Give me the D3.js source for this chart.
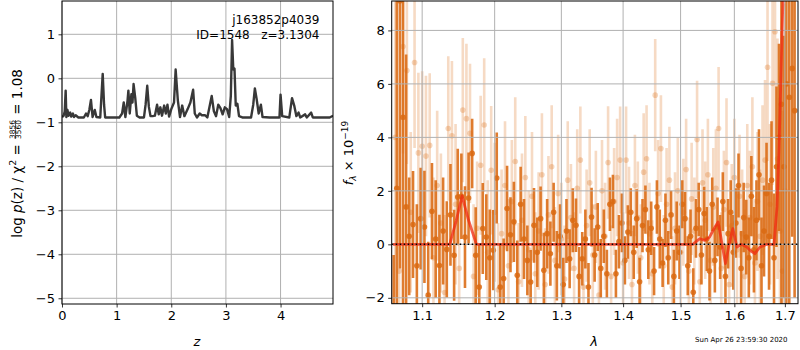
<!DOCTYPE html>
<html><head><meta charset="utf-8">
<script src="https://cdn.jsdelivr.net/npm/d3@7"></script>
<style>body{margin:0;background:#fff} text{font-family:"DejaVu Sans",sans-serif}</style>
</head><body><svg id="c" width="800" height="350" xmlns="http://www.w3.org/2000/svg"></svg>
<script>
// ---------------- data ----------------
const pzZ = [0.00,0.03,0.05,0.067,0.08,0.10,0.12,0.15,0.17,0.20,0.22,0.25,0.30,0.40,0.44,0.47,0.50,0.53,0.56,0.60,0.63,0.70,0.745,0.77,0.79,0.85,1.05,1.10,1.13,1.16,1.20,1.215,1.24,1.27,1.29,1.31,1.34,1.37,1.42,1.50,1.53,1.56,1.59,1.62,1.66,1.70,1.74,1.77,1.80,1.83,1.87,1.90,1.93,1.96,2.00,2.05,2.08,2.12,2.16,2.20,2.24,2.30,2.35,2.40,2.43,2.47,2.52,2.56,2.62,2.66,2.74,2.78,2.82,2.86,2.90,2.94,2.98,3.02,3.06,3.09,3.113,3.135,3.157,3.18,3.21,3.24,3.30,3.46,3.50,3.53,3.56,3.60,3.64,3.67,3.80,3.98,4.00,4.03,4.16,4.21,4.25,4.29,4.33,4.36,4.45,4.48,4.56,4.59,4.90,4.96];
const pzLogp = [-0.88,-0.85,-0.75,-0.28,-0.88,-0.72,-0.85,-0.78,-0.87,-0.80,-0.88,-0.84,-0.89,-0.89,-0.80,-0.86,-0.72,-0.49,-0.88,-0.72,-0.88,-0.89,0.10,-0.60,-0.89,-0.89,-0.89,-0.80,-0.55,-0.88,-0.50,-0.28,-0.80,-0.36,-0.55,-0.13,-0.44,-0.85,-0.89,-0.89,-0.60,-0.17,-0.65,-0.86,-0.86,-0.85,-0.60,-0.82,-0.66,-0.85,-0.62,-0.80,-0.60,-0.87,-0.70,-0.55,0.20,-0.50,-0.88,-0.62,-0.86,-0.70,-0.55,-0.26,-0.80,-0.89,-0.80,-0.84,-0.84,-0.89,-0.40,-0.75,-0.86,-0.60,-0.68,-0.82,-0.66,-0.70,-0.88,-0.40,0.87,0.20,0.22,-0.62,-0.58,-0.86,-0.89,-0.89,-0.60,-0.23,-0.45,-0.80,-0.60,-0.88,-0.89,-0.89,-0.37,-0.86,-0.89,-0.45,-0.62,-0.86,-0.78,-0.89,-0.82,-0.89,-0.78,-0.89,-0.89,-0.85];

const darkWave = [1.063,1.067,1.071,1.075,1.079,
1.083,1.088,1.093,1.098,1.103,1.108,1.113,1.118,1.123,1.128,
1.133,1.138,1.143,1.148,1.153,1.158,1.163,1.168,1.173,1.178,
1.183,1.188,1.193,1.198,1.203,1.208,1.213,1.218,1.223,1.228,
1.233,1.238,1.243,1.248,1.253,1.258,1.263,1.268,1.273,1.278,
1.283,1.288,1.293,1.298,1.303,1.308,1.313,1.318,1.323,1.328,
1.333,1.338,1.343,1.348,1.353,1.358,1.363,1.368,1.373,1.378,
1.383,1.388,1.393,1.398,1.403,1.408,1.413,1.418,1.423,1.428,
1.433,1.438,1.443,1.448,1.453,1.458,1.463,1.468,1.473,1.478,
1.483,1.488,1.493,1.498,1.503,1.508,1.513,1.518,1.523,1.528,
1.533,1.538,1.543,1.548,1.553,1.558,1.563,1.568,1.573,1.578,
1.583,1.588,1.593,1.598,1.603,1.608,1.613,1.618,1.623,1.628,
1.633,1.638,1.643,1.648,1.653,1.658,1.663,1.668,1.673,1.678,
1.683,1.688,1.693,1.698,1.703,1.709,1.715,1.720];
const darkFlux = [-3.0,2.1,9.1,4.75,1.4,
0.3,0.74,-0.8,0.96,0.65,-1.9,1.24,0.2,-0.79,0.5,
-0.19,1.1,-0.41,1.77,1.8,0.27,1.73,3.4,-0.41,-1.6,
0.59,0.27,-0.5,-0.22,2.48,-1.6,-1.28,1.34,0.36,0.84,
-1.16,1.5,0.2,-0.6,-1.41,0.71,-0.3,0.96,-0.97,0.4,
-0.35,1.2,-0.8,0.3,-1.5,0.5,-0.54,0.9,0.71,-1.2,
-0.54,0.2,-1.6,1.02,-0.4,0.65,-0.9,0.3,-1.1,1.5,
1.6,-1.1,0.1,0.8,-0.6,0.46,1.2,-0.3,0.96,-1.4,
0.7,1.3,-0.2,0.6,-1.0,1.4,0.2,-0.7,0.9,-0.5,
1.1,-1.2,0.5,-0.3,1.5,0.96,-0.8,0.3,-1.79,0.6,
1.3,-0.4,1.15,0.2,-1.0,1.5,-0.6,0.65,-0.1,1.6,
-1.2,0.4,1.2,-0.3,0.8,2.2,-0.9,1.0,0.27,-0.5,
1.8,-0.2,0.9,2.6,-0.8,0.5,1.9,0.3,2.4,-0.5,
2.9,4.0,5.24,2.9,6.0,5.5,6.58,5.0];
const darkErr = [2.6,9.0,10.0,8.0,5.7,
2.2,2.0,2.3,1.9,2.1,2.0,1.8,2.2,1.9,2.0,
1.8,1.9,1.7,1.8,1.6,1.9,1.7,1.3,1.8,1.6,
1.7,1.6,1.8,1.5,1.7,1.6,1.5,1.6,1.4,1.5,
1.3,1.4,1.5,1.3,1.2,1.4,1.3,1.2,1.4,1.3,
1.2,1.1,1.3,1.2,1.0,1.2,1.1,1.2,1.0,1.1,
1.0,1.1,0.9,1.1,1.0,0.9,1.1,1.0,0.9,1.0,
1.0,0.9,1.0,1.1,0.9,1.0,0.9,1.0,1.1,0.9,
1.0,0.9,1.1,1.0,0.9,1.0,1.1,0.9,1.0,1.0,
0.9,1.0,1.1,1.0,0.9,1.0,1.1,1.0,0.9,1.1,
1.0,1.1,1.0,1.2,1.1,1.0,1.2,1.1,1.2,1.1,
1.2,1.3,1.2,1.4,1.3,1.2,1.4,1.3,1.4,1.5,
1.5,1.6,1.5,1.7,1.8,1.7,1.9,2.0,2.2,2.4,
3.0,3.5,9.0,4.9,9.0,8.0,6.3,7.0];

const lightWave = [1.065,1.070,1.075,1.080,1.085,1.090,1.095,1.100,1.105,1.110,
1.115,1.120,1.125,1.130,1.135,1.140,1.145,1.150,1.155,1.160,
1.165,1.170,1.175,1.180,1.185,1.190,1.195,1.200,1.205,1.210,
1.215,1.220,1.225,1.230,1.235,1.240,1.245,1.250,1.255,1.260,
1.265,1.270,1.275,1.280,1.285,1.290,1.295,1.300,1.305,1.310,
1.315,1.320,1.325,1.330,1.335,1.340,1.345,1.350,1.355,1.360,
1.365,1.370,1.375,1.380,1.385,1.390,1.395,1.400,1.405,1.410,
1.415,1.420,1.425,1.430,1.435,1.440,1.445,1.450,1.455,1.460,
1.465,1.470,1.475,1.480,1.485,1.490,1.495,1.500,1.505,1.510,
1.515,1.520,1.525,1.530,1.535,1.540,1.545,1.550,1.555,1.560,
1.565,1.570,1.575,1.580,1.585,1.590,1.595,1.600,1.605,1.610,
1.615,1.620,1.625,1.630,1.635,1.640,1.645,1.650,1.655,1.660,
1.665,1.670,1.675,1.680,1.685,1.690,1.695,1.700];
const lightFlux = [4.0,-1.0,7.4,6.5,1.2,6.8,3.42,3.67,3.3,3.7,
-0.5,2.2,0.8,-1.8,4.33,4.06,1.5,-0.9,5.02,4.7,
4.15,-1.2,0.6,2.96,4.46,-0.3,2.77,1.2,-1.7,0.4,
2.2,-0.8,1.6,3.1,-1.4,0.9,2.5,-0.2,1.8,-1.1,
0.5,2.6,-1.5,1.1,2.9,-0.6,1.9,0.2,-1.3,2.4,
1.0,-0.9,2.1,3.15,-1.6,0.7,2.3,-0.4,1.4,-1.9,
2.0,0.3,3.06,-1.2,1.6,2.5,3.15,-0.7,3.15,0.8,
-1.5,2.2,1.0,-0.5,2.7,3.2,0.4,-1.1,5.58,1.9,
3.58,-0.8,1.5,2.4,-1.6,0.6,2.0,-0.3,1.2,2.8,
-1.0,1.7,0.5,3.92,-1.4,2.3,0.9,2.6,-0.6,1.4,
2.1,4.33,-0.9,1.3,3.06,-1.5,0.7,2.5,-0.2,1.8,
0.4,-1.2,2.2,1.0,2.9,-0.7,1.6,0.3,2.4,3.15,
6.62,1.5,6.02,7.95,3.2,0.5,-1.0,2.0];
const lightErr = [6.0,5.0,4.0,3.5,3.0,3.2,3.0,2.8,3.0,2.7,
3.0,2.8,2.6,2.9,2.7,2.8,3.0,2.6,2.7,2.8,
2.6,2.7,2.5,2.6,2.5,2.7,2.4,2.6,2.5,2.4,
2.4,2.5,2.3,2.4,2.2,2.5,2.3,2.2,2.4,2.3,
2.2,2.3,2.1,2.2,2.3,2.0,2.2,2.1,2.0,2.2,
2.0,2.1,2.2,2.0,1.9,2.1,2.0,1.9,2.1,2.0,
1.9,2.0,2.1,1.9,2.0,2.2,2.0,1.9,2.0,2.1,
2.0,1.9,2.1,2.0,2.2,2.0,1.9,2.0,2.1,2.0,
2.0,1.9,2.1,2.0,1.9,2.1,2.0,2.2,2.0,1.9,
2.0,2.1,2.0,2.2,2.1,2.0,2.2,2.1,2.0,2.2,
2.2,2.3,2.1,2.2,2.4,2.2,2.3,2.2,2.4,2.3,
2.4,2.5,2.3,2.5,2.6,2.4,2.6,2.5,2.8,3.0,
3.5,3.0,3.8,4.0,4.5,5.0,6.0,7.0];

const modelWave = [1.062,1.137,1.146,1.154,1.163,1.174,1.522,1.535,1.544,1.553,1.562,1.569,1.574,1.583,1.590,1.597,1.605,1.613,1.624,1.632,1.640,1.650,1.663,1.678,1.684,1.688,1.693,1.698,1.702];
const modelFlux = [0,0,0.9,1.81,0.9,0,0,0.21,0.15,0.27,0.6,0.84,0.3,-0.72,0.0,0.59,-0.1,0.0,-0.1,-0.25,-0.35,-0.1,0.0,0.0,1.4,3.5,7.0,10.5,12.0];

const zTicks = [0,1,2,3,4];
const logpTicks = [-5,-4,-3,-2,-1,0,1];
const lamTicks = [1.1,1.2,1.3,1.4,1.5,1.6,1.7];
const fluxTicks = [-2,0,2,4,6,8];

// ---------------- drawing ----------------
const svg = d3.select("#c");
const ORANGE = "#db6a12";
const GRID = "#b0b0b0";

const L = {x0:62, x1:333, y0:1, y1:304};
const R = {x0:391.7, x1:798, y0:1, y1:303.7};

const xL = d3.scaleLinear().domain([0,4.96]).range([L.x0,L.x1]);
const yL = d3.scaleLinear().domain([-5.13,1.757]).range([L.y1,L.y0]);
const xR = d3.scaleLog().domain([1.0605,1.727]).range([R.x0,R.x1]);
const yR = d3.scaleLinear().domain([-2.22,9.1]).range([R.y1,R.y0]);

const defs = svg.append("defs");
defs.append("clipPath").attr("id","clipL").append("rect")
  .attr("x",L.x0).attr("y",L.y0).attr("width",L.x1-L.x0).attr("height",L.y1-L.y0);
defs.append("clipPath").attr("id","clipR").append("rect")
  .attr("x",R.x0).attr("y",R.y0).attr("width",R.x1-R.x0).attr("height",R.y1-R.y0);

function grid(g, P, xs, ys, xt, yt){
  g.selectAll(null).data(xt).enter().append("line")
    .attr("x1",d=>xs(d)).attr("x2",d=>xs(d)).attr("y1",P.y0).attr("y2",P.y1)
    .attr("stroke",GRID).attr("stroke-width",1);
  g.selectAll(null).data(yt).enter().append("line")
    .attr("y1",d=>ys(d)).attr("y2",d=>ys(d)).attr("x1",P.x0).attr("x2",P.x1)
    .attr("stroke",GRID).attr("stroke-width",1);
}
function axes(P, xs, ys, xt, yt, xfmt, yfmt){
  const gx = svg.append("g").attr("transform",`translate(0,${P.y1})`)
    .call(d3.axisBottom(xs).tickValues(xt).tickFormat(xfmt).tickSize(3.5).tickPadding(3.5));
  const gy = svg.append("g").attr("transform",`translate(${P.x0},0)`)
    .call(d3.axisLeft(ys).tickValues(yt).tickFormat(yfmt).tickSize(3.5).tickPadding(3.5));
  [gx,gy].forEach(g=>{
    g.select(".domain").remove();
    g.selectAll("text").attr("font-size",13).attr("font-family","DejaVu Sans").attr("fill","#000");
    g.selectAll("line").attr("stroke","#000").attr("stroke-width",0.8);
  });
  svg.append("rect").attr("x",P.x0).attr("y",P.y0).attr("width",P.x1-P.x0).attr("height",P.y1-P.y0)
    .attr("fill","none").attr("stroke","#000").attr("stroke-width",1);
}
const minusFmt = d => (d<0?"\u2212":"")+Math.abs(d);

// ----- left panel -----
const gLeft = svg.append("g");
grid(gLeft, L, xL, yL, zTicks, logpTicks);
const pz = pzZ.map((z,i)=>({z, p:pzLogp[i]}));
gLeft.append("path").attr("clip-path","url(#clipL)")
  .datum(pz)
  .attr("d", d3.line().x(d=>xL(d.z)).y(d=>yL(d.p)))
  .attr("fill","none").attr("stroke","#383838").attr("stroke-width",2.4).attr("stroke-linejoin","round");
axes(L, xL, yL, zTicks, logpTicks, d=>String(d), minusFmt);

svg.append("text").attr("x",319.5).attr("y",24.3).attr("text-anchor","end")
  .attr("font-size",12).text("j163852p4039");
svg.append("text").attr("x",319.5).attr("y",39.3).attr("text-anchor","end")
  .attr("font-size",12).style("white-space","pre").text("ID=1548   z=3.1304");

// x label left
svg.append("text").attr("x",197).attr("y",345.5).attr("text-anchor","middle")
  .attr("font-size",13).attr("font-style","italic").text("z");

// y label left (rotated, with fraction)
(function(){
  const g = svg.append("g").attr("transform","translate(21.5,153.5) rotate(-90)");
  let x = 0;
  function piece(txt, opts={}){
    const t = g.append("text").attr("x",x).attr("y",opts.dy||0)
      .attr("font-size",opts.size||13.5).style("white-space","pre").text(txt);
    if(opts.italic) t.attr("font-style","italic");
    const w = t.node().getComputedTextLength();
    x += w; return w;
  }
  piece("log ");
  piece("p",{italic:true});
  piece("(z) / \u03c7");
  piece("2",{size:9.5,dy:-5.5});
  piece(" = ");
  const fx = x + 1;
  const n = g.append("text").attr("x",0).attr("y",-6.8).attr("font-size",7.4).text("3856");
  const d = g.append("text").attr("x",0).attr("y",-0.6).attr("font-size",7.4).text("3560");
  const wn = n.node().getComputedTextLength(), wd = d.node().getComputedTextLength();
  const fw = Math.max(wn,wd);
  n.attr("x",fx+(fw-wn)/2); d.attr("x",fx+(fw-wd)/2);
  const bar = g.append("line").attr("y1",-6).attr("y2",-6)
    .attr("stroke","#000").attr("stroke-width",0.6);
  x = fx + fw + 1;
  piece(" = 1.08");
  const total = x;
  g.selectAll("text").each(function(){ const s=d3.select(this); s.attr("x", +s.attr("x") - total/2); });
  bar.attr("x1",fx-total/2).attr("x2",fx+fw-total/2);
})();

// ----- right panel -----
const gR = svg.append("g").attr("clip-path","url(#clipR)");
const light = lightWave.map((w,i)=>({w, f:lightFlux[i], e:lightErr[i]}));
const dark = darkWave.map((w,i)=>({w, f:darkFlux[i], e:darkErr[i]}));

gR.selectAll(null).data(light).enter().append("line")
  .attr("x1",d=>xR(d.w)).attr("x2",d=>xR(d.w))
  .attr("y1",d=>yR(d.f-d.e)).attr("y2",d=>yR(d.f+d.e))
  .attr("stroke",ORANGE).attr("stroke-opacity",0.25).attr("stroke-width",2.6);
gR.selectAll(null).data(light).enter().append("circle")
  .attr("cx",d=>xR(d.w)).attr("cy",d=>yR(d.f)).attr("r",2.8)
  .attr("fill",ORANGE).attr("fill-opacity",0.28);
gR.selectAll(null).data(dark).enter().append("line")
  .attr("x1",d=>xR(d.w)).attr("x2",d=>xR(d.w))
  .attr("y1",d=>yR(d.f-d.e)).attr("y2",d=>yR(d.f+d.e))
  .attr("stroke",ORANGE).attr("stroke-opacity",0.88).attr("stroke-width",2.6);
gR.selectAll(null).data(dark).enter().append("circle")
  .attr("cx",d=>xR(d.w)).attr("cy",d=>yR(d.f)).attr("r",2.8)
  .attr("fill",ORANGE).attr("fill-opacity",0.85);

// grid above the data points, below the model
grid(svg.append("g"), R, xR, yR, lamTicks, fluxTicks);

const gR2 = svg.append("g").attr("clip-path","url(#clipR)");
const model = modelWave.map((w,i)=>({w, f:modelFlux[i]}));
gR2.append("path").datum(model)
  .attr("d", d3.line().x(d=>xR(d.w)).y(d=>yR(d.f)))
  .attr("fill","none").attr("stroke","#f02a10").attr("stroke-opacity",0.75)
  .attr("stroke-width",2.8).attr("stroke-linejoin","round");

gR2.append("line").attr("x1",R.x0).attr("x2",R.x1).attr("y1",yR(0)).attr("y2",yR(0))
  .attr("stroke","#000").attr("stroke-width",1.5).attr("stroke-dasharray","1.5,2.5");

axes(R, xR, yR, lamTicks, fluxTicks, d3.format(".1f"), minusFmt);

svg.append("text").attr("x",594).attr("y",345.5).attr("text-anchor","middle")
  .attr("font-size",13).attr("font-style","italic").text("\u03bb");

// y label right
(function(){
  const g = svg.append("g").attr("transform","translate(353,153) rotate(-90)");
  let x = 0;
  function piece(txt, opts={}){
    const t = g.append("text").attr("x",x).attr("y",opts.dy||0)
      .attr("font-size",opts.size||13).style("white-space","pre").text(txt);
    if(opts.italic) t.attr("font-style","italic");
    x += t.node().getComputedTextLength();
  }
  piece("f",{italic:true});
  piece("\u03bb",{size:9,dy:3,italic:true});
  piece(" \u00d7 10");
  piece("\u221219",{size:9,dy:-5.5});
  const total = x;
  g.selectAll("text").each(function(){ const s=d3.select(this); s.attr("x", +s.attr("x") - total/2); });
})();

svg.append("text").attr("x",787.5).attr("y",342).attr("text-anchor","end")
  .attr("font-size",7).text("Sun Apr 26 23:59:30 2020");
</script>
</body></html>
